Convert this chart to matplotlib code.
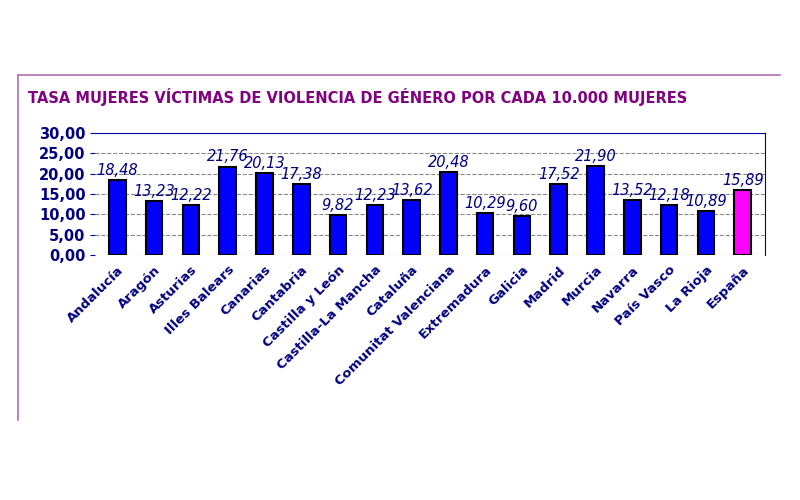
import matplotlib
matplotlib.use("Agg")
import matplotlib.pyplot as plt
from matplotlib.lines import Line2D

categories = ["Andalucía", "Aragón", "Asturias", "Illes Balears", "Canarias", "Cantabria",
              "Castilla y León", "Castilla-La Mancha", "Cataluña", "Comunitat Valenciana",
              "Extremadura", "Galicia", "Madrid", "Murcia", "Navarra", "País Vasco", "La Rioja", "España"]
values = [18.48, 13.23, 12.22, 21.76, 20.13, 17.38, 9.82, 12.23, 13.62, 20.48,
          10.29, 9.60, 17.52, 21.90, 13.52, 12.18, 10.89, 15.89]
yticks = [0, 5, 10, 15, 20, 25, 30]

fig = plt.figure(figsize=(8, 5), dpi=100)
fig.add_artist(Line2D([0.022, 0.975], [0.85, 0.85], color="#b070b0", lw=1.2))
fig.add_artist(Line2D([0.022, 0.022], [0.85, 0.16], color="#b070b0", lw=1.2))
fig.text(0.035, 0.795, "TASA MUJERES VÍCTIMAS DE VIOLENCIA DE GÉNERO POR CADA 10.000 MUJERES",
         color="#800080", fontsize=10.5, fontweight="bold", family="DejaVu Sans")

ax = fig.add_axes([0.119, 0.49, 0.837, 0.244])
x = range(len(categories))
colors = ["#0000ff"] * (len(values) - 1) + ["#ff00ff"]
ax.bar(x, values, width=0.45, color=colors, edgecolor="black", linewidth=1.5, zorder=3)
for i, v in enumerate(values):
    ax.text(i, v + 0.5, f"{v:.2f}".replace(".", ","), ha="center", va="bottom",
            fontsize=10.5, style="italic", color="#000080", zorder=4)
ax.set_ylim(0, 30)
ax.set_xlim(-0.6, len(values) - 0.4)
ax.set_yticks(yticks)
ax.set_yticklabels([f"{t:.2f}".replace(".", ",") for t in yticks], fontsize=10.5,
                   fontweight="bold", color="#000080")
ax.set_xticks(list(x))
ax.set_xticklabels(categories, rotation=45, ha="right", rotation_mode="anchor",
                   fontsize=9.5, fontweight="bold", color="#000080")
ax.tick_params(axis="x", length=0, pad=6)
ax.tick_params(axis="y", color="#0000a0")
for s in ["top", "right"]:
    ax.spines[s].set_color("#0000a0")
ax.spines["left"].set_visible(False)
ax.spines["bottom"].set_visible(False)
ax.grid(axis="y", linestyle="--", color="#888888", zorder=0)
fig.savefig("out.png")
